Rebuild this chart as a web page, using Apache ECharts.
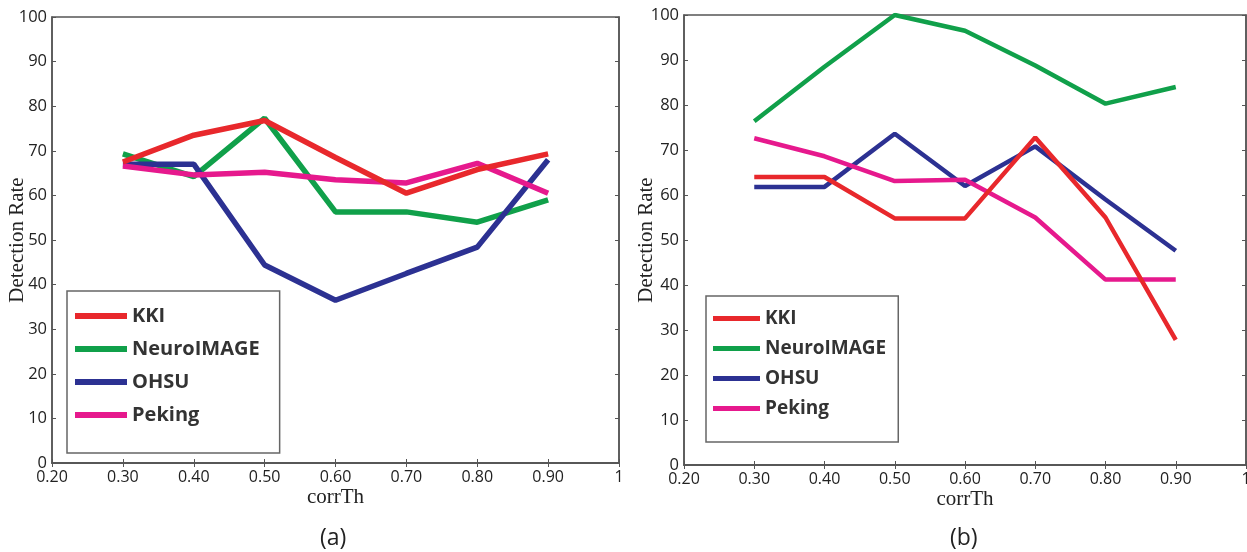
<!DOCTYPE html>
<html>
<head>
<meta charset="utf-8">
<script src="https://cdn.jsdelivr.net/npm/echarts@6/dist/echarts.min.js"></script>
<style>
html,body{margin:0;padding:0;background:#fff;}
#chart{width:1247px;height:552px;}
</style>
</head>
<body>
<div id="chart"></div>
<script>
// ---- data ----
const corrTh = [0.30, 0.40, 0.50, 0.60, 0.70, 0.80, 0.90];
const seriesNames = ['KKI', 'NeuroIMAGE', 'OHSU', 'Peking'];
const xTickLabels = ['0.20', '0.30', '0.40', '0.50', '0.60', '0.70', '0.80', '0.90', '1'];
const yTickLabels = ['0', '10', '20', '30', '40', '50', '60', '70', '80', '90', '100'];

// panel (a)
const aKKI        = [67.5, 73.5, 76.8, 68.5, 60.5, 65.8, 69.3];
const aNeuroIMAGE = [69.3, 64.2, 77.3, 56.3, 56.3, 54.0, 59.0];
const aOHSU       = [67.0, 67.0, 44.4, 36.5, 42.5, 48.4, 68.0];
const aPeking     = [66.6, 64.6, 65.2, 63.5, 62.8, 67.2, 60.5];

// panel (b)
const bKKI        = [64.0, 64.0, 54.8, 54.8, 72.8, 55.0, 27.8];
const bNeuroIMAGE = [76.4, 88.5, 100.0, 96.5, 88.8, 80.3, 84.0];
const bOHSU       = [61.8, 61.8, 73.6, 62.0, 70.8, 59.0, 47.6];
const bPeking     = [72.6, 68.6, 63.1, 63.4, 55.0, 41.2, 41.2];

const colors = ['#e8282c', '#10a04a', '#2c3192', '#e6198d'];

// ---- chart ----
const chart = echarts.init(document.getElementById('chart'));
const pair = (ys) => corrTh.map((x, i) => [x, ys[i]]);
const axisCol = '#555';
const lblFont = '"Open Sans", "Noto Sans", sans-serif';
const serif = '"Liberation Serif", "DejaVu Serif", serif';

function xFmt(v) { return xTickLabels[Math.round((v - 0.2) * 10)]; }
function yFmt(v) { return yTickLabels[Math.round(v / 10)]; }

const grids = [
  {left: 52, right: 628, top: 17, bottom: 89, show: true, borderColor: axisCol, borderWidth: 1.5, backgroundColor: '#fff', containLabel: false, outerBoundsMode: 'none'},
  {left: 684, right: 1, top: 15, bottom: 87, show: true, borderColor: axisCol, borderWidth: 1.5, backgroundColor: '#fff', containLabel: false, outerBoundsMode: 'none'}
];
const yNameGaps = [24, 27];

const xAxes = [], yAxes = [];
[0, 1].forEach(g => {
  xAxes.push({
    type: 'value', gridIndex: g, min: 0.2, max: 1, interval: 0.1,
    name: 'corrTh', nameLocation: 'middle', nameGap: 24, nameMoveOverlap: false,
    nameTextStyle: {fontFamily: serif, fontSize: 21, color: '#222'},
    axisLine: {show: true, lineStyle: {color: axisCol, width: 1.5}},
    axisTick: {show: true, inside: true, length: 4, lineStyle: {color: axisCol}},
    axisLabel: {formatter: xFmt, fontFamily: lblFont, fontSize: 16, color: '#222', margin: 6},
    splitLine: {show: false}
  });
  xAxes.push({
    type: 'value', gridIndex: g, position: 'top', min: 0.2, max: 1, interval: 0.1,
    axisLine: {show: true, lineStyle: {color: axisCol, width: 1.5}},
    axisTick: {show: true, inside: true, length: 4, lineStyle: {color: axisCol}},
    axisLabel: {show: false}, splitLine: {show: false}
  });
  yAxes.push({
    type: 'value', gridIndex: g, min: 0, max: 100, interval: 10,
    name: 'Detection Rate', nameLocation: 'middle', nameGap: yNameGaps[g], nameMoveOverlap: false,
    nameTextStyle: {fontFamily: serif, fontSize: 21, color: '#222'},
    axisLine: {show: true, lineStyle: {color: axisCol, width: 1.5}},
    axisTick: {show: true, inside: true, length: 4, lineStyle: {color: axisCol}},
    axisLabel: {formatter: yFmt, fontFamily: lblFont, fontSize: 16.5, color: '#222', margin: 5},
    splitLine: {show: false}
  });
  yAxes.push({
    type: 'value', gridIndex: g, position: 'right', min: 0, max: 100, interval: 10,
    axisLine: {show: true, lineStyle: {color: axisCol, width: 1.5}},
    axisTick: {show: true, inside: true, length: 4, lineStyle: {color: axisCol}},
    axisLabel: {show: false}, splitLine: {show: false}
  });
});

const panelData = [
  [aKKI, aNeuroIMAGE, aOHSU, aPeking],
  [bKKI, bNeuroIMAGE, bOHSU, bPeking]
];
const lineWidths = [5.5, 4.5];
const series = [];
panelData.forEach((arrs, g) => {
  arrs.forEach((ys, i) => {
    series.push({
      type: 'line', name: seriesNames[i],
      xAxisIndex: g * 2, yAxisIndex: g * 2,
      data: pair(ys), showSymbol: false, symbol: 'none',
      lineStyle: {color: colors[i], width: lineWidths[g]},
      itemStyle: {color: colors[i]},
      z: 3 + (i === 0 ? 1 : 0)
    });
  });
});

const legends = [
  {
    left: 67, top: 291, orient: 'vertical', data: seriesNames,
    icon: 'rect', itemWidth: 52, itemHeight: 6, itemGap: 13,
    textStyle: {fontFamily: lblFont, fontWeight: 'bold', fontSize: 20, color: '#333'},
    borderColor: '#666', borderWidth: 1.5,
    padding: [15, 20, 28, 8], backgroundColor: '#fff', selectedMode: false
  },
  {
    left: 706, top: 296, orient: 'vertical', data: seriesNames,
    icon: 'rect', itemWidth: 47, itemHeight: 5, itemGap: 11,
    textStyle: {fontFamily: lblFont, fontWeight: 'bold', fontSize: 19, color: '#333'},
    borderColor: '#666', borderWidth: 1.5,
    padding: [13, 12, 24, 7], backgroundColor: '#fff', selectedMode: false
  }
];

chart.setOption({
  animation: false,
  backgroundColor: '#fff',
  color: colors,
  grid: grids,
  xAxis: xAxes,
  yAxis: yAxes,
  legend: legends,
  series: series,
  graphic: [
    {type: 'text', left: 320, top: 527, style: {text: '(a)', font: '23px "Open Sans", sans-serif', fill: '#222'}},
    {type: 'text', left: 950, top: 527, style: {text: '(b)', font: '23px "Open Sans", sans-serif', fill: '#222'}}
  ]
});
</script>
</body>
</html>
